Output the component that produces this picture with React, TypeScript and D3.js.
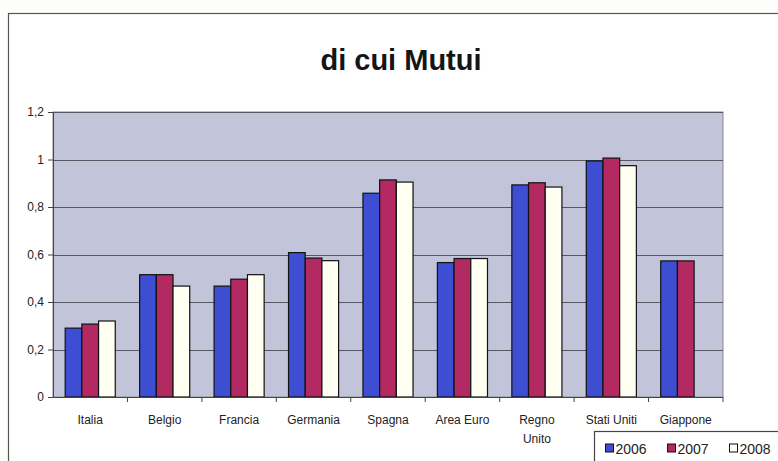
import { useEffect, useRef } from 'react';
import * as d3 from 'd3';

// Chart data
const categories = ['Italia', 'Belgio', 'Francia', 'Germania', 'Spagna', 'Area Euro', 'Regno Unito', 'Stati Uniti', 'Giappone'];
const years = ['2006', '2007', '2008'];
const values2006 = [0.29, 0.515, 0.467, 0.608, 0.858, 0.566, 0.893, 0.994, 0.573];
const values2007 = [0.307, 0.515, 0.496, 0.585, 0.914, 0.583, 0.902, 1.006, 0.573];
const values2008: (number | null)[] = [0.32, 0.467, 0.515, 0.574, 0.905, 0.583, 0.884, 0.974, null];
const yTicks = [0, 0.2, 0.4, 0.6, 0.8, 1, 1.2];

const seriesColors = ['#3d4ed2', '#b32a62', '#fffff2'];

export default function App() {
    const svgRef = useRef<SVGSVGElement>(null);

    useEffect(() => {
        if (!svgRef.current) return;
        const svg = d3.select(svgRef.current);
        svg.selectAll('*').remove();

        const width = 778, height = 461;
        const plot = { left: 53, right: 723, top: 112, bottom: 397 };
        const font = 'Liberation Sans, Arial, sans-serif';

        // page background
        svg.append('rect').attr('width', width).attr('height', height).attr('fill', '#fdfdfb');

        // outer chart frame
        svg.append('rect')
            .attr('x', 8.5).attr('y', 13.5)
            .attr('width', 800).attr('height', 470)
            .attr('fill', '#ffffff')
            .attr('stroke', '#555').attr('stroke-width', 1.2);

        // title
        svg.append('text')
            .attr('x', 401).attr('y', 70)
            .attr('text-anchor', 'middle')
            .style('font', `bold 29px ${font}`)
            .attr('fill', '#151515')
            .text('di cui Mutui');

        const x0 = d3.scaleBand<string>()
            .domain(categories)
            .range([plot.left, plot.right])
            .paddingInner(0)
            .paddingOuter(0);

        const x1 = d3.scaleBand<string>()
            .domain(years)
            .range([0, x0.bandwidth()])
            .paddingOuter(0.73)
            .paddingInner(0);

        const y = d3.scaleLinear()
            .domain([0, 1.2])
            .range([plot.bottom, plot.top]);

        // plot area
        svg.append('rect')
            .attr('x', plot.left).attr('y', plot.top)
            .attr('width', plot.right - plot.left).attr('height', plot.bottom - plot.top)
            .attr('fill', '#c2c5da')
            .attr('stroke', '#8a8a90').attr('stroke-width', 1);

        // gridlines
        svg.append('g')
            .selectAll('line')
            .data(yTicks.filter(t => t > 0))
            .join('line')
            .attr('x1', plot.left).attr('x2', plot.right)
            .attr('y1', d => Math.round(y(d)) + 0.5).attr('y2', d => Math.round(y(d)) + 0.5)
            .attr('stroke', '#585862').attr('stroke-width', 1);

        // bars
        const seriesData = [values2006, values2007, values2008];
        seriesData.forEach((vals, si) => {
            svg.append('g')
                .selectAll('rect')
                .data(categories.map((c, i) => ({ c, v: vals[i] })).filter(d => d.v != null))
                .join('rect')
                .attr('x', d => (x0(d.c) as number) + (x1(years[si]) as number))
                .attr('y', d => y(d.v as number))
                .attr('width', x1.bandwidth())
                .attr('height', d => plot.bottom - y(d.v as number))
                .attr('fill', seriesColors[si])
                .attr('stroke', '#111')
                .attr('stroke-width', 1.2);
        });

        // axes
        const yAxis = svg.append('g')
            .attr('transform', `translate(${plot.left},0)`)
            .call(d3.axisLeft(y).tickValues(yTicks).tickSize(5)
                .tickFormat(d => d3.format('~g')(d as number).replace('.', ',')));
        yAxis.select('.domain').attr('stroke', '#444');
        yAxis.selectAll('line').attr('stroke', '#444');
        yAxis.selectAll('text')
            .style('font', `12px ${font}`)
            .attr('fill', '#222')
            .attr('x', -9);

        const xAxis = svg.append('g')
            .attr('transform', `translate(0,${plot.bottom})`);
        xAxis.append('line')
            .attr('x1', plot.left).attr('x2', plot.right)
            .attr('y1', 0.5).attr('y2', 0.5)
            .attr('stroke', '#444');
        xAxis.selectAll('line.tick')
            .data(categories)
            .join('line')
            .attr('class', 'tick')
            .attr('x1', d => (x0(d) as number) + x0.bandwidth())
            .attr('x2', d => (x0(d) as number) + x0.bandwidth())
            .attr('y1', 0).attr('y2', 5)
            .attr('stroke', '#444');

        const labels = xAxis.selectAll('text')
            .data(categories)
            .join('text')
            .attr('text-anchor', 'middle')
            .attr('y', 27)
            .style('font', `12px ${font}`)
            .attr('fill', '#222');
        labels.each(function (d) {
            const t = d3.select(this);
            const cx = (x0(d) as number) + x0.bandwidth() / 2;
            const parts = d === 'Regno Unito' ? ['Regno', 'Unito'] : [d];
            parts.forEach((p, i) => {
                t.append('tspan').attr('x', cx).attr('dy', i === 0 ? 0 : 19).text(p);
            });
        });

        // legend
        const legend = svg.append('g').attr('transform', 'translate(594.5,431.5)');
        legend.append('rect')
            .attr('width', 220).attr('height', 40)
            .attr('fill', '#ffffff')
            .attr('stroke', '#444').attr('stroke-width', 1.2);
        years.forEach((yr, i) => {
            const g = legend.append('g').attr('transform', `translate(${11 + i * 62},17)`);
            g.append('rect')
                .attr('x', 0).attr('y', -4.5)
                .attr('width', 8).attr('height', 8)
                .attr('fill', seriesColors[i])
                .attr('stroke', '#111');
            g.append('text')
                .attr('x', 10).attr('y', 5)
                .style('font', `14px ${font}`)
                .attr('fill', '#222')
                .text(yr);
        });
    }, []);

    return (
        <svg ref={svgRef} width={778} height={461}
             style={{ display: 'block', position: 'absolute', left: 0, top: 0 }} />
    );
}
